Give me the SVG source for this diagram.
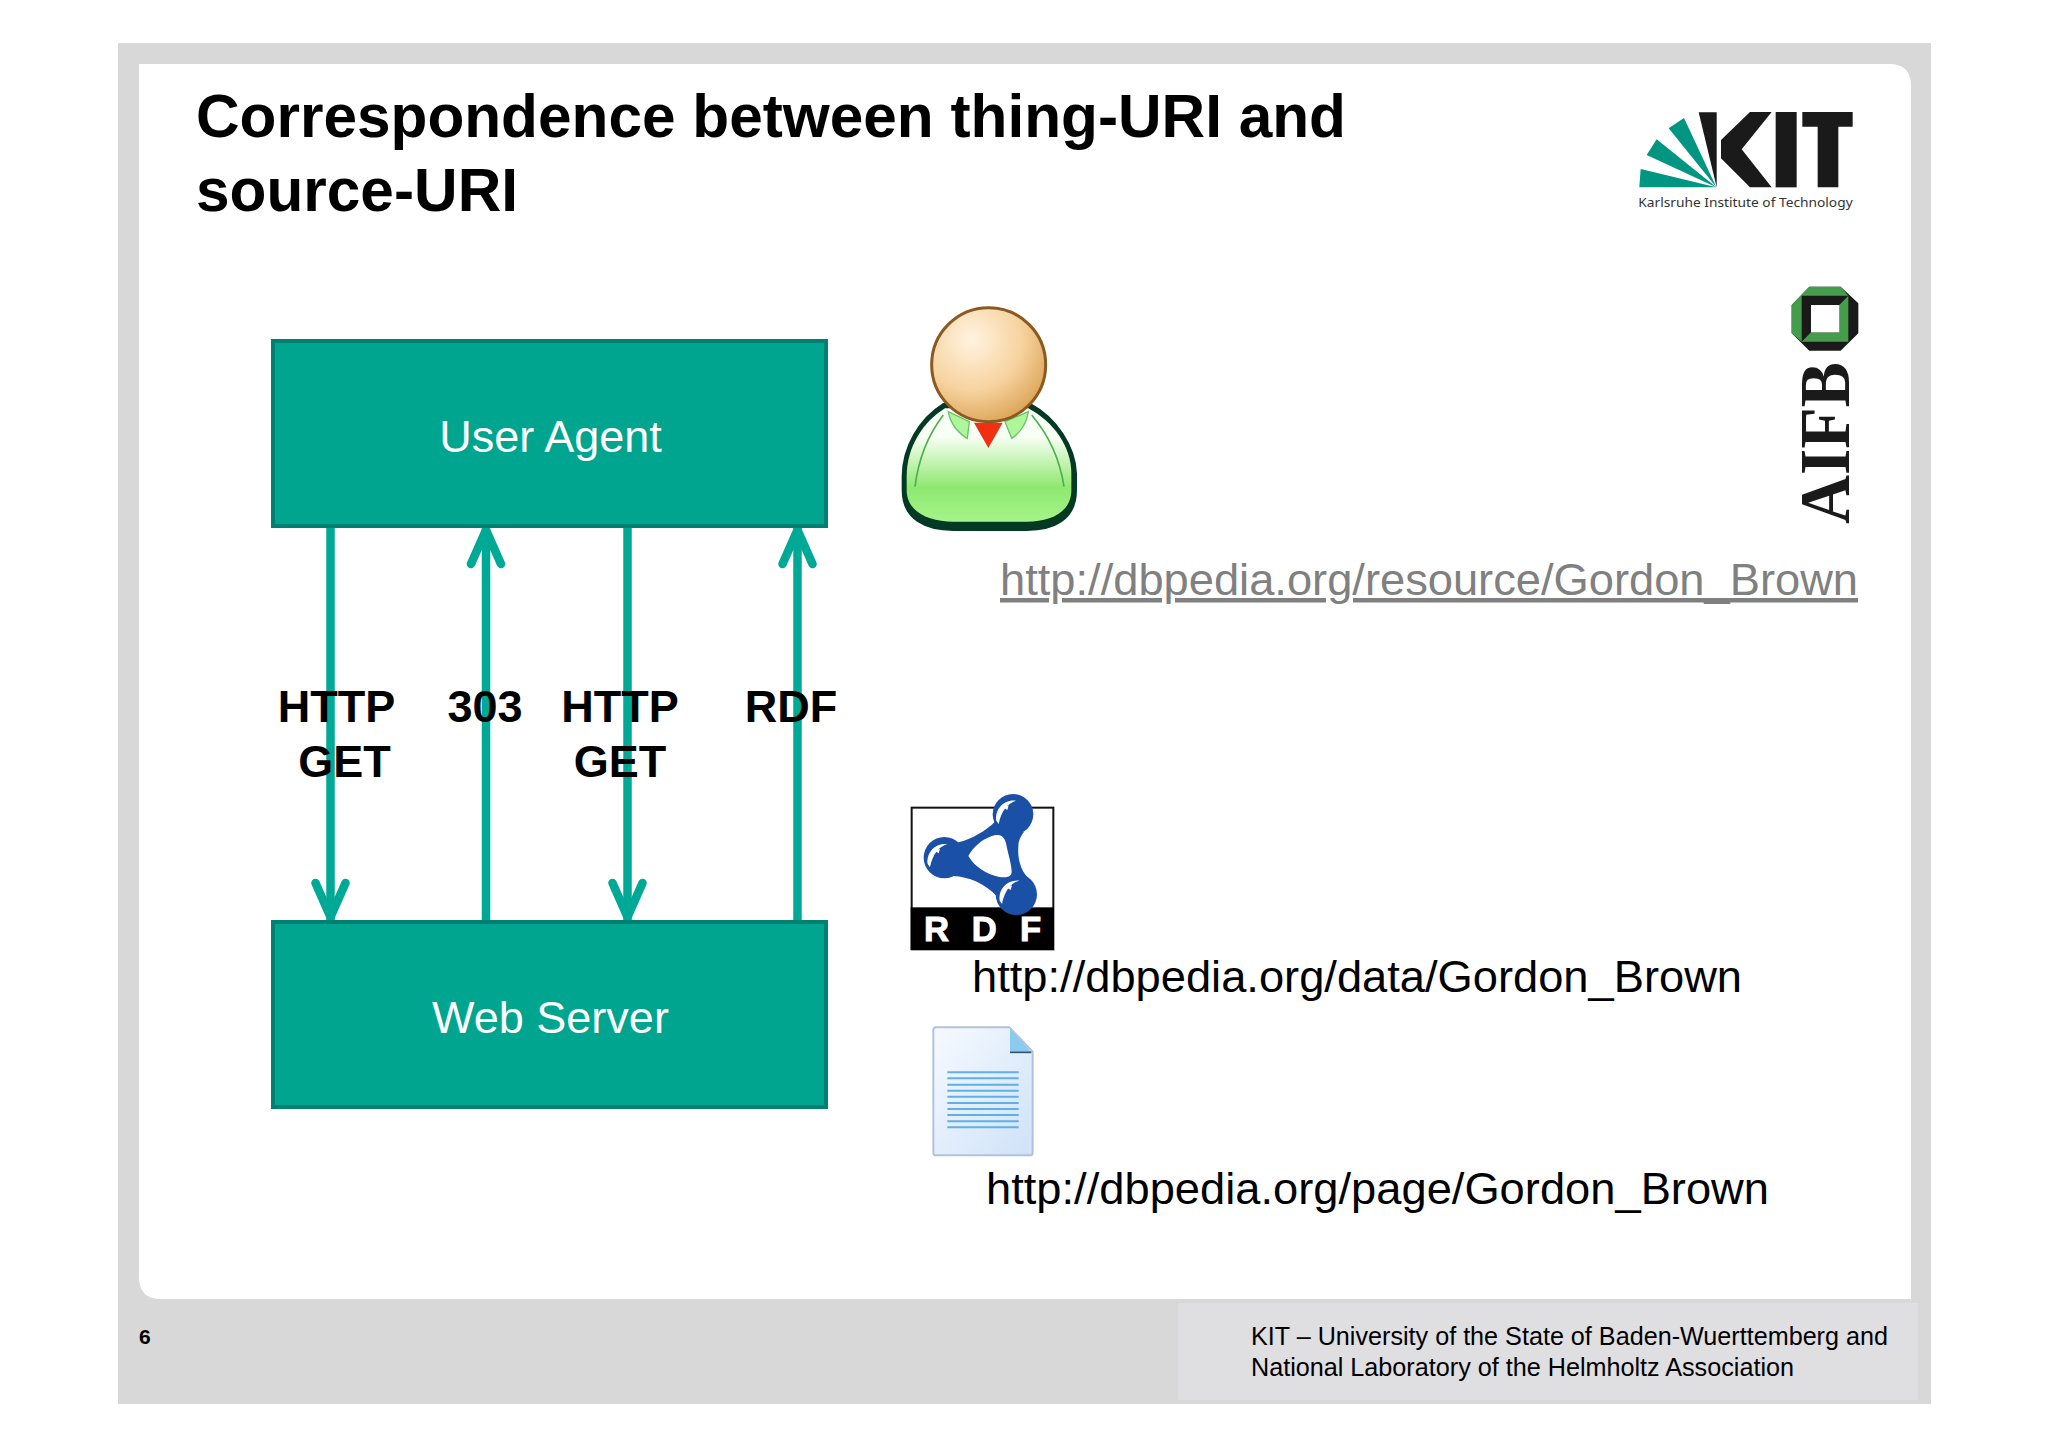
<svg xmlns="http://www.w3.org/2000/svg" width="2048" height="1447" viewBox="0 0 2048 1447">
<style>
text{font-family:"Liberation Sans",Arial,sans-serif}
.box{fill:#00a590;stroke:#007f73;stroke-width:4}
.wt{fill:#fff;font-size:45px;text-anchor:middle}
.lab{font-weight:bold;font-size:45px;text-anchor:middle;fill:#000}
.url{font-size:45px;fill:#000}
.conn{stroke:#00a995;stroke-width:8.5;fill:none;marker-end:url(#chev)}
</style>
<defs>
<marker id="chev" markerUnits="userSpaceOnUse" markerWidth="60" markerHeight="60" refX="55" refY="30" orient="auto" viewBox="0 0 60 60"><path d="M18,15 L52,30 L18,45" fill="none" stroke="#00a995" stroke-width="8.5" stroke-linecap="round"/></marker>
<radialGradient id="head" cx=".35" cy=".28" r=".8"><stop offset="0" stop-color="#fff3e0"/><stop offset=".55" stop-color="#f7d3a0"/><stop offset="1" stop-color="#d9a050"/></radialGradient>
<linearGradient id="body" x1="0" y1="0" x2="0" y2="1"><stop offset=".25" stop-color="#f8fff4"/><stop offset=".7" stop-color="#8ee870"/><stop offset="1" stop-color="#a6f48a"/></linearGradient>
<linearGradient id="doc" x1="0" y1="0" x2="1" y2="1"><stop offset="0" stop-color="#f6faff"/><stop offset="1" stop-color="#cfe2f8"/></linearGradient>
<path id="shine" d="M289,122 C284,92 308,58 348,62 C322,70 304,92 296,132Z M312,84 L326,76 L322,90Z" fill="#fff"/>
</defs>
<rect x="118" y="43" width="1813" height="1361" fill="#d8d8d9"/>
<path d="M139,64 H1889 Q1911,64 1911,86 V1299 H161 Q139,1299 139,1277 Z" fill="#fff"/>
<rect x="1178" y="1303" width="740" height="97" fill="#dfdee1"/>
<text x="139" y="1344" font-size="21" font-weight="bold">6</text>
<text x="1251" y="1345" font-size="26" textLength="637" lengthAdjust="spacingAndGlyphs">KIT – University of the State of Baden-Wuerttemberg and</text>
<text x="1251" y="1376" font-size="26" textLength="543" lengthAdjust="spacingAndGlyphs">National Laboratory of the Helmholtz Association</text>
<text x="196" y="137" font-size="61" font-weight="bold" textLength="1150" lengthAdjust="spacingAndGlyphs">Correspondence between thing-URI and</text>
<text x="196" y="210.5" font-size="61" font-weight="bold" textLength="322" lengthAdjust="spacingAndGlyphs">source-URI</text>
<g id="connectors">
<line class="conn" x1="330.5" y1="527" x2="330.5" y2="920"/>
<line class="conn" x1="486" y1="920" x2="486" y2="527"/>
<line class="conn" x1="627.5" y1="527" x2="627.5" y2="920"/>
<line class="conn" x1="797.5" y1="920" x2="797.5" y2="527"/>
</g>
<g id="user-agent"><rect class="box" x="273" y="341" width="553" height="185"/><text class="wt" x="550.5" y="452">User Agent</text></g>
<g id="web-server"><rect class="box" x="273" y="922" width="553" height="185"/><text class="wt" x="550.5" y="1033">Web Server</text></g>
<g id="labels">
<text class="lab" x="336.5" y="721.5">HTTP</text><text class="lab" x="344.5" y="777">GET</text>
<text class="lab" x="485" y="721.5">303</text>
<text class="lab" x="620" y="721.5">HTTP</text><text class="lab" x="620" y="777">GET</text>
<text class="lab" x="791" y="721.5">RDF</text>
</g>
<text class="url" x="1000" y="595" style="fill:#808080" text-decoration="underline" textLength="858" lengthAdjust="spacingAndGlyphs">http://dbpedia.org/resource/Gordon_Brown</text>
<text class="url" x="972" y="992" textLength="770" lengthAdjust="spacingAndGlyphs">http://dbpedia.org/data/Gordon_Brown</text>
<text class="url" x="986" y="1204" textLength="783" lengthAdjust="spacingAndGlyphs">http://dbpedia.org/page/Gordon_Brown</text>
<g id="kit-logo" transform="translate(1600,90) scale(.33333)">
<g fill="#009682"><path d="M118,292 L122,237 L349,292Z"/><path d="M140,195 L170,148 L349,292Z"/><path d="M206,115 L252,84 L349,292Z"/></g>
<g fill="#1a1a1a"><path d="M296,67 H350 V292Z"/><path d="M363,150 L450,66 H515 L425,178 L515,292 H450 L363,205Z"/><rect x="527" y="66" width="63" height="226"/><path d="M607,66 H758 V110 H715 V292 H653 V110 H607Z"/></g>
<text x="115" y="350" font-size="38" fill="#333" style="font-family:'Noto Sans',sans-serif" textLength="643" lengthAdjust="spacingAndGlyphs">Karlsruhe Institute of Technology</text>
</g>
<g id="aifb-logo" transform="translate(1600,90) scale(.33333)">
<path d="M575,645 L628,590 H722 L775,640 V730 L722,782 H628 L575,730Z" fill="#1a1a1a"/>
<path d="M575,645 L628,590 H722 L745,617 H605 V755 L575,730Z" fill="#459c4c"/>
<path d="M718,645 L745,617 V755 H605 L633,727 H718Z" fill="#459c4c"/>
<rect x="633" y="645" width="85" height="82" fill="#fff"/>
<text transform="translate(746,1302) rotate(-90)" font-size="215" font-weight="bold" fill="#1a1a1a" style="font-family:'Liberation Serif',serif" textLength="486" lengthAdjust="spacingAndGlyphs">AIFB</text>
</g>
<g id="person" transform="translate(880,290) scale(.33333)">
<path d="M190,342 C120,385 68,470 68,560 V600 C68,690 140,720 220,720 H440 C520,720 588,690 588,600 V550 C585,470 530,385 450,342 Z" fill="#043a24" stroke="#043a24" stroke-width="6"/>
<path d="M195,355 C130,395 80,470 80,560 V600 C80,665 145,695 220,695 H440 C515,695 574,665 574,600 V550 C574,470 520,395 445,355 Z" fill="url(#body)"/>
<path d="M190,375 C140,440 115,510 105,590 M455,375 C510,440 540,510 552,590" fill="none" stroke="#4fae50" stroke-width="5"/>
<path d="M205,365 C210,400 235,430 262,445 L268,395Z M445,365 C440,400 420,430 395,445 L375,395Z" fill="#aef69a" stroke="#6cc070" stroke-width="4"/>
<path d="M282,398 H368 L325,474Z" fill="#f03010"/>
<circle cx="326" cy="224" r="171" fill="url(#head)" stroke="#8a5a20" stroke-width="9"/>
</g>
<g id="rdf-icon" transform="translate(900,780) scale(.33333)">
<rect x="35" y="83" width="425" height="425" fill="#fff" stroke="#111" stroke-width="6"/>
<rect x="32" y="382" width="430" height="128" fill="#000"/>
<text x="72 150 215 300 360" y="483" font-size="104" font-weight="bold" fill="#fff" stroke="#fff" stroke-width="3">R D F</text>
<path d="M285,125 C260,150 215,178 175,187 L160,288 C205,290 255,310 292,350 L392,300 C365,280 352,240 355,200 C355,180 362,170 372,155Z" fill="#1a50a6"/>
<circle cx="339" cy="103" r="61" fill="#1a50a6"/><circle cx="133" cy="233" r="62" fill="#1a50a6"/><circle cx="349" cy="343" r="62" fill="#1a50a6"/>
<path d="M205,228 C220,200 245,180 270,170 C295,160 312,165 318,190 C325,225 335,255 335,275 C335,290 320,295 295,290 C260,282 225,262 205,228Z" fill="#fff"/>
<use href="#shine"/><use href="#shine" x="-206" y="130"/><use href="#shine" x="10" y="240"/>
</g>
<g id="doc-icon" transform="translate(900,780) scale(.33333)">
<path d="M108,742 H328 L398,815 V1118 Q398,1126 390,1126 H108 Q100,1126 100,1118 V750 Q100,742 108,742Z" fill="url(#doc)" stroke="#b3c2dc" stroke-width="6"/>
<path d="M330,746 V815 H394Z" fill="#8ccbf0"/><path d="M330,817 H394" stroke="#345070" stroke-width="5"/>
<path d="M142,877h214M142,895h214M142,914h214M142,932h214M142,950h214M142,969h214M142,987h214M142,1005h214M142,1024h214M142,1042h214" stroke="#5fb0e5" stroke-width="6"/>
</g>
</svg>
